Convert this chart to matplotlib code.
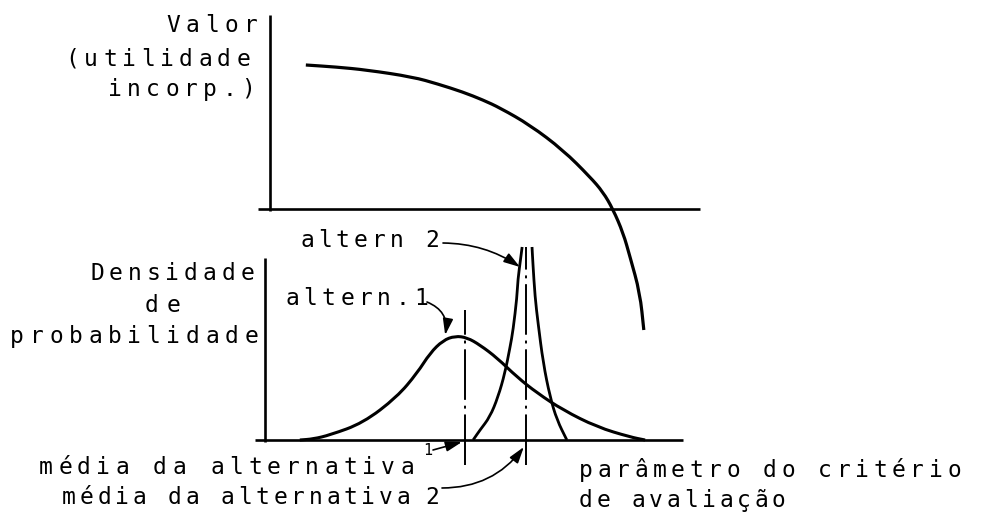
import matplotlib
matplotlib.use("Agg")
import numpy as np
import matplotlib.pyplot as plt
from matplotlib.path import Path
from matplotlib.patches import PathPatch

W, H = 981, 515

# curva de valor (utilidade incorporada) x parametro do criterio
valor_x = [0.88, 1.58, 2.30, 3.37, 3.95, 4.53, 5.00, 5.40, 6.09, 6.86, 7.49, 7.79, 8.02, 8.26, 8.42, 8.65, 8.74]
valor_y = [7.20, 7.10, 6.95, 6.60, 6.25, 5.85, 5.45, 5.05, 4.20, 2.95, 1.60, 0.85, 0.00, -1.20, -2.40, -4.20, -6.05]

# densidade de probabilidade, alternativa 1
alt1_x = [0.74, 1.05, 1.44, 2.21, 3.00, 3.47, 3.77, 4.07, 4.35, 4.63, 4.93, 5.33, 5.79, 6.26, 6.86, 7.65, 8.42, 8.77]
alt1_y = [0.00, 0.05, 0.25, 0.85, 2.15, 3.35, 4.35, 4.98, 5.20, 5.12, 4.75, 4.10, 3.15, 2.35, 1.50, 0.65, 0.15, 0.00]

# alternativa 2 (pico estreito, ramos esquerdo e direito)
alt2_esq_x = [4.77, 4.93, 5.16, 5.35, 5.51, 5.63, 5.70, 5.79, 5.81, 5.88, 5.91]
alt2_esq_y = [0.00, 0.50, 1.15, 2.15, 3.35, 4.65, 5.50, 7.15, 8.00, 9.15, 9.65]
alt2_dir_x = [6.14, 6.16, 6.21, 6.28, 6.40, 6.56, 6.72, 6.95]
alt2_dir_y = [9.65, 8.85, 7.15, 5.85, 3.85, 2.15, 1.00, 0.00]

media1 = 4.58
media2 = 6.00

fig = plt.figure(figsize=(W / 100, H / 100), dpi=100)
ax_v = fig.add_axes([0, 0, 1, 1])
ax_d = fig.add_axes([0, 0, 1, 1])
for ax in (ax_v, ax_d):
    ax.set_xlim(-268 / 43, (W - 268) / 43)
    ax.axis("off")
    ax.patch.set_visible(False)
ax_v.set_ylim((209 - H) / 20, 209 / 20)
ax_d.set_ylim((440 - H) / 20, 440 / 20)

k = dict(color="black", solid_capstyle="butt", solid_joinstyle="round")


def curva(ax, xs, ys, lw):
    # traco suave: pontos lidos como controles de curvas quadraticas
    p = np.column_stack([xs, ys])
    verts = [p[0], (p[0] + p[1]) / 2]
    codes = [Path.MOVETO, Path.LINETO]
    for i in range(1, len(p) - 1):
        verts += [p[i], (p[i] + p[i + 1]) / 2]
        codes += [Path.CURVE3, Path.CURVE3]
    verts.append(p[-1])
    codes.append(Path.LINETO)
    ax.add_patch(PathPatch(Path(verts, codes), fill=False, lw=lw,
                           edgecolor="black", capstyle="butt", joinstyle="round"))


# eixos do grafico de valor
ax_v.plot([-0.23, 10.05], [0, 0], lw=1.9, **k)
ax_v.plot([0.05, 0.05], [-0.1, 9.7], lw=1.9, **k)
curva(ax_v, valor_x, valor_y, 2.3)

# eixos do grafico de densidade
ax_d.plot([-0.3, 9.65], [0, 0], lw=1.9, **k)
ax_d.plot([-0.07, -0.07], [-0.1, 9.1], lw=1.9, **k)
curva(ax_d, alt1_x, alt1_y, 2.2)
curva(ax_d, alt2_esq_x, alt2_esq_y, 2.0)
curva(ax_d, alt2_dir_x, alt2_dir_y, 2.0)

traco_ponto = (0, (26, 3, 1.5, 3))
ax_d.plot([media1, media1], [-1.25, 6.5], lw=1.4, color="black", linestyle=traco_ponto)
ax_d.plot([media2, media2], [-1.25, 9.65], lw=1.4, color="black", linestyle=traco_ponto)


def seta(xy, inicio, rad):
    ax_d.annotate("", xy=xy, xycoords="data",
                  xytext=(inicio[0], H - inicio[1]), textcoords="figure pixels",
                  arrowprops=dict(arrowstyle="-|>,head_length=0.7,head_width=0.22",
                                  color="black", lw=1.2, shrinkA=0, shrinkB=0,
                                  mutation_scale=14,
                                  connectionstyle=f"arc3,rad={rad}"))


seta((5.86, 8.65), (443, 243), -0.15)
seta((4.12, 5.25), (427, 302), -0.4)
seta((media1 - 0.07, -0.1), (433, 450), 0.0)
seta((media2 - 0.05, -0.35), (442, 488), 0.25)


def texto(s, x0, base, passo, tam=16.5):
    # um caractere por vez, com espacamento fixo de maquina
    for i, ch in enumerate(s):
        fig.text((x0 + i * passo) / W, 1 - base / H, ch, ha="center", va="baseline",
                 family="DejaVu Sans Mono", fontsize=tam, color="black")


texto("Valor", 173, 32, 19.5)
texto("(utilidade", 72, 66, 19)
texto("incorp.)", 115, 96, 19)

texto("Densidade", 97, 280, 18.75)
texto("de", 152, 312, 21)
texto("probabilidade", 17, 343, 19.5)

texto("altern 2", 307, 247, 17.9)
texto("altern.1", 292, 305, 18.4)

texto("média da alternativa", 46, 474, 19)
texto("1", 428, 455, 19, tam=11)
texto("média da alternativa", 69, 504, 17.6)
texto("2", 432, 504, 19)

texto("parâmetro do critério", 586, 477, 18.4)
texto("de avaliação", 586, 507, 17.5)

fig.savefig("out.png", dpi=100, facecolor="white")
